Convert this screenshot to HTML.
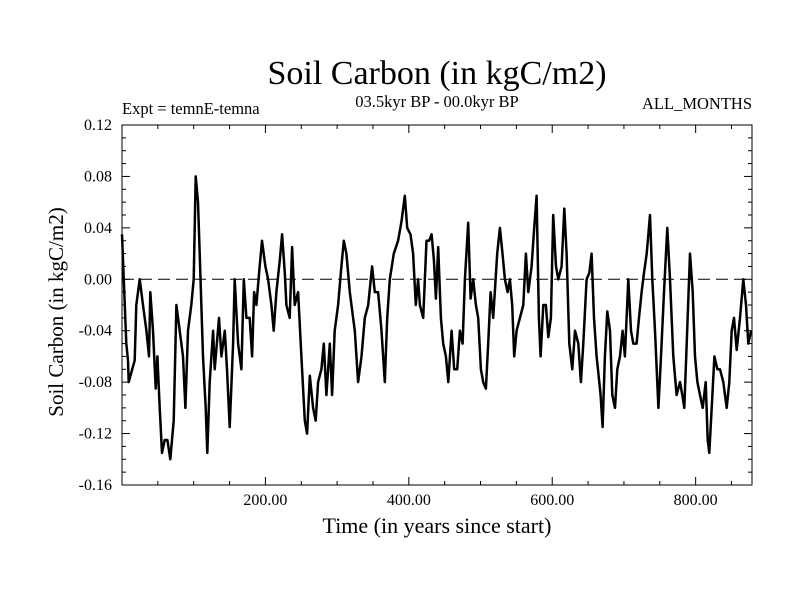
<!DOCTYPE html>
<html><head><meta charset="utf-8"><style>
html,body{margin:0;padding:0;background:#fff;}
svg text{font-family:"Liberation Serif",serif;fill:#000;}
</style></head><body>
<svg id="chart" width="800" height="600" viewBox="0 0 800 600" xmlns="http://www.w3.org/2000/svg">
<rect width="800" height="600" fill="#fff"/>
<text x="437" y="84" font-size="34" text-anchor="middle">Soil Carbon (in kgC/m2)</text>
<text x="122" y="114" font-size="16.5">Expt = temnE-temna</text>
<text x="437" y="107" font-size="16.5" text-anchor="middle">03.5kyr BP - 00.0kyr BP</text>
<text x="752" y="109" font-size="16.5" text-anchor="end">ALL_MONTHS</text>
<g id="grid"></g>
<g id="series"></g>
<rect x="122" y="125" width="630" height="360" fill="none" stroke="#000" stroke-width="1"/>
<g id="axes"></g>
<text x="437" y="533" font-size="22" text-anchor="middle">Time (in years since start)</text>
<text x="0" y="0" font-size="21" text-anchor="middle" transform="translate(63,312) rotate(-90)">Soil Carbon (in kgC/m2)</text>
</svg>
<script>
const years = [0,6,8.4,9.3,17.7,20,24.7,29.3,34,37.7,39.5,43.3,47,49.3,52.6,55.8,59.5,63.3,67.4,72.1,75.8,80.5,85.1,88.4,92.1,96.7,100,102.8,106,108.4,113,116.7,119,122.3,127,129.3,135.3,138.6,143.3,146.5,150.2,154.9,157.2,161.9,166.5,169.8,173.5,178.1,181.4,184.2,187.4,191.2,195.3,200,203.7,208.4,211.6,215.3,220,223.3,227,229.3,233.9,237.2,240.9,245.6,250.2,254.9,258.1,261.9,266.5,270.2,273.5,278.1,281.4,285.1,289.8,293,296.7,301.4,306,309.3,313,317.7,322.3,324.7,329.3,334,338.6,343.3,348.8,352.6,357.2,361.9,366.5,369.8,373.5,379.1,385.1,389.8,394.4,397.7,402.3,406,409.8,413,
415.4,420,424.7,428.4,431.7,435,437.7,441,444.7,448,451.7,455,459.6,463.3,467.5,471.2,475,478.2,482.8,486.1,489.8,493.5,496.8,500.5,503.8,507.5,510.7,514,517.7,523.3,527,530.7,534,537.7,541,544.2,547,550.3,554.9,559.6,563.3,566.6,571.2,574.9,578.2,581.4,583.8,587.5,591.2,594.5,598.2,601.4,605.2,608.4,613.1,616.8,620,623.8,628,631.7,636.3,640,643.3,648,651.7,654.9,658.2,661.9,665.6,667.5,670.3,673.5,676.8,680.5,683.8,687.5,690.8,694.5,698.2,701.4,706.1,709.8,713,717.7,721,724.7,728,731.7,736.3,739.6,743.3,748,751.7,755.9,760.5,764.2,768.9,773.5,778.2,781.4,784.2,787.5,792.1,795.9,799.1,802.4,806.1,809.8,814,816.8,819.1,822.4,826.1,830.3,834,838.6,843.3,847,850.3,853.5,857.3,861.9,866.5,870.2,873.5,877.3];
const values = [0.035,-0.05,-0.063,-0.08,-0.063,-0.02,0.0,-0.02,-0.04,-0.06,-0.01,-0.04,-0.085,-0.06,-0.1,-0.135,-0.125,-0.125,-0.14,-0.11,-0.02,-0.04,-0.06,-0.1,-0.04,-0.02,0.0,0.08,0.06,0.02,-0.06,-0.1,-0.135,-0.08,-0.04,-0.07,-0.03,-0.06,-0.04,-0.07,-0.115,-0.05,0.0,-0.05,-0.07,0.0,-0.03,-0.03,-0.06,-0.01,-0.02,0.005,0.03,0.01,0.0,-0.02,-0.04,-0.01,0.015,0.035,0.005,-0.02,-0.03,0.025,-0.02,-0.01,-0.06,-0.11,-0.12,-0.075,-0.1,-0.11,-0.08,-0.07,-0.05,-0.09,-0.05,-0.09,-0.04,-0.02,0.01,0.03,0.02,-0.01,-0.03,-0.04,-0.08,-0.06,-0.03,-0.02,0.01,-0.01,-0.01,-0.04,-0.08,-0.03,0.0,0.02,0.03,0.045,0.065,0.04,0.035,0.02,-0.02,0.0,
-0.02,-0.03,0.03,0.03,0.035,0.015,-0.015,0.025,-0.03,-0.05,-0.06,-0.08,-0.04,-0.07,-0.07,-0.04,-0.05,0.0,0.044,-0.015,0.0,-0.02,-0.03,-0.07,-0.08,-0.085,-0.05,-0.01,-0.03,0.02,0.04,0.02,0.0,-0.01,0.0,-0.02,-0.06,-0.04,-0.03,-0.02,0.02,-0.01,0.01,0.04,0.065,-0.03,-0.06,-0.02,-0.02,-0.045,-0.03,0.05,0.01,0.0,0.01,0.055,0.02,-0.05,-0.07,-0.04,-0.05,-0.08,-0.05,0.0,0.005,0.02,-0.03,-0.06,-0.08,-0.09,-0.115,-0.06,-0.025,-0.04,-0.09,-0.1,-0.07,-0.06,-0.04,-0.06,0.0,-0.04,-0.05,-0.05,-0.03,-0.01,0.005,0.02,0.05,0.0,-0.04,-0.1,-0.06,-0.01,0.04,0.0,-0.06,-0.09,-0.08,-0.09,-0.1,-0.05,0.02,-0.01,-0.06,-0.08,-0.09,-0.1,-0.08,-0.125,-0.135,-0.1,-0.06,-0.07,-0.07,-0.08,-0.1,-0.08,-0.04,-0.03,-0.055,-0.03,0.0,-0.02,-0.05,-0.04];
const yTickLabels = ["0.12","0.08","0.04","0.00","-0.04","-0.08","-0.12","-0.16"];
const xTickLabels = ["200.00","400.00","600.00","800.00"];

const X0=122, X1=752, Y0=125, Y1=485;
const xMin=0, xMax=878.6, yMin=-0.16, yMax=0.12;
function sx(v){return X0+(v-xMin)/(xMax-xMin)*(X1-X0);}
function sy(v){return Y1-(v-yMin)/(yMax-yMin)*(Y1-Y0);}
const NS="http://www.w3.org/2000/svg";
const axes=document.getElementById('axes');
const grid=document.getElementById('grid');
const series=document.getElementById('series');
function mk(tag,attrs,parent){const e=document.createElementNS(NS,tag);for(const k in attrs)e.setAttribute(k,attrs[k]);parent.appendChild(e);return e;}

const zl=mk('line',{x1:X0,x2:X1,y1:sy(0),y2:sy(0),stroke:'#000','stroke-width':1,'stroke-dasharray':'12,6'},grid);



for(let i=0;i<=28;i++){
  const v=yMin+i*0.01, y=sy(v), major=(i%4===0), len=major?8:4;
  const t1=mk('line',{x1:X0,x2:X0+len,y1:y,y2:y,stroke:'#000','stroke-width':1},axes);
  
  
  const t2=mk('line',{x1:X1,x2:X1-len,y1:y,y2:y,stroke:'#000','stroke-width':1},axes);
  
  
}
yTickLabels.forEach(function(s){
  const v=parseFloat(s);
  const t=mk('text',{x:112,y:sy(v)+5,'font-size':16,'text-anchor':'end'},axes);
  t.textContent=s;
  
  
});
for(let v=50;v<xMax;v+=50){
  const x=sx(v), major=(v%200===0), len=major?8:4;
  const t1=mk('line',{x1:x,x2:x,y1:Y1,y2:Y1-len,stroke:'#000','stroke-width':1},axes);
  
  
  const t2=mk('line',{x1:x,x2:x,y1:Y0,y2:Y0+len,stroke:'#000','stroke-width':1},axes);
  
  
}
xTickLabels.forEach(function(s){
  const v=parseFloat(s);
  const t=mk('text',{x:sx(v),y:505,'font-size':16,'text-anchor':'middle'},axes);
  t.textContent=s;
  
  
});
let d='';
for(let i=0;i<years.length;i++){d+=(i?'L':'M')+sx(years[i]).toFixed(1)+','+sy(values[i]).toFixed(1);}
const p=mk('path',{d:d,fill:'none',stroke:'#000','stroke-width':2.5,'stroke-linejoin':'round'},series);


</script>
</body></html>
